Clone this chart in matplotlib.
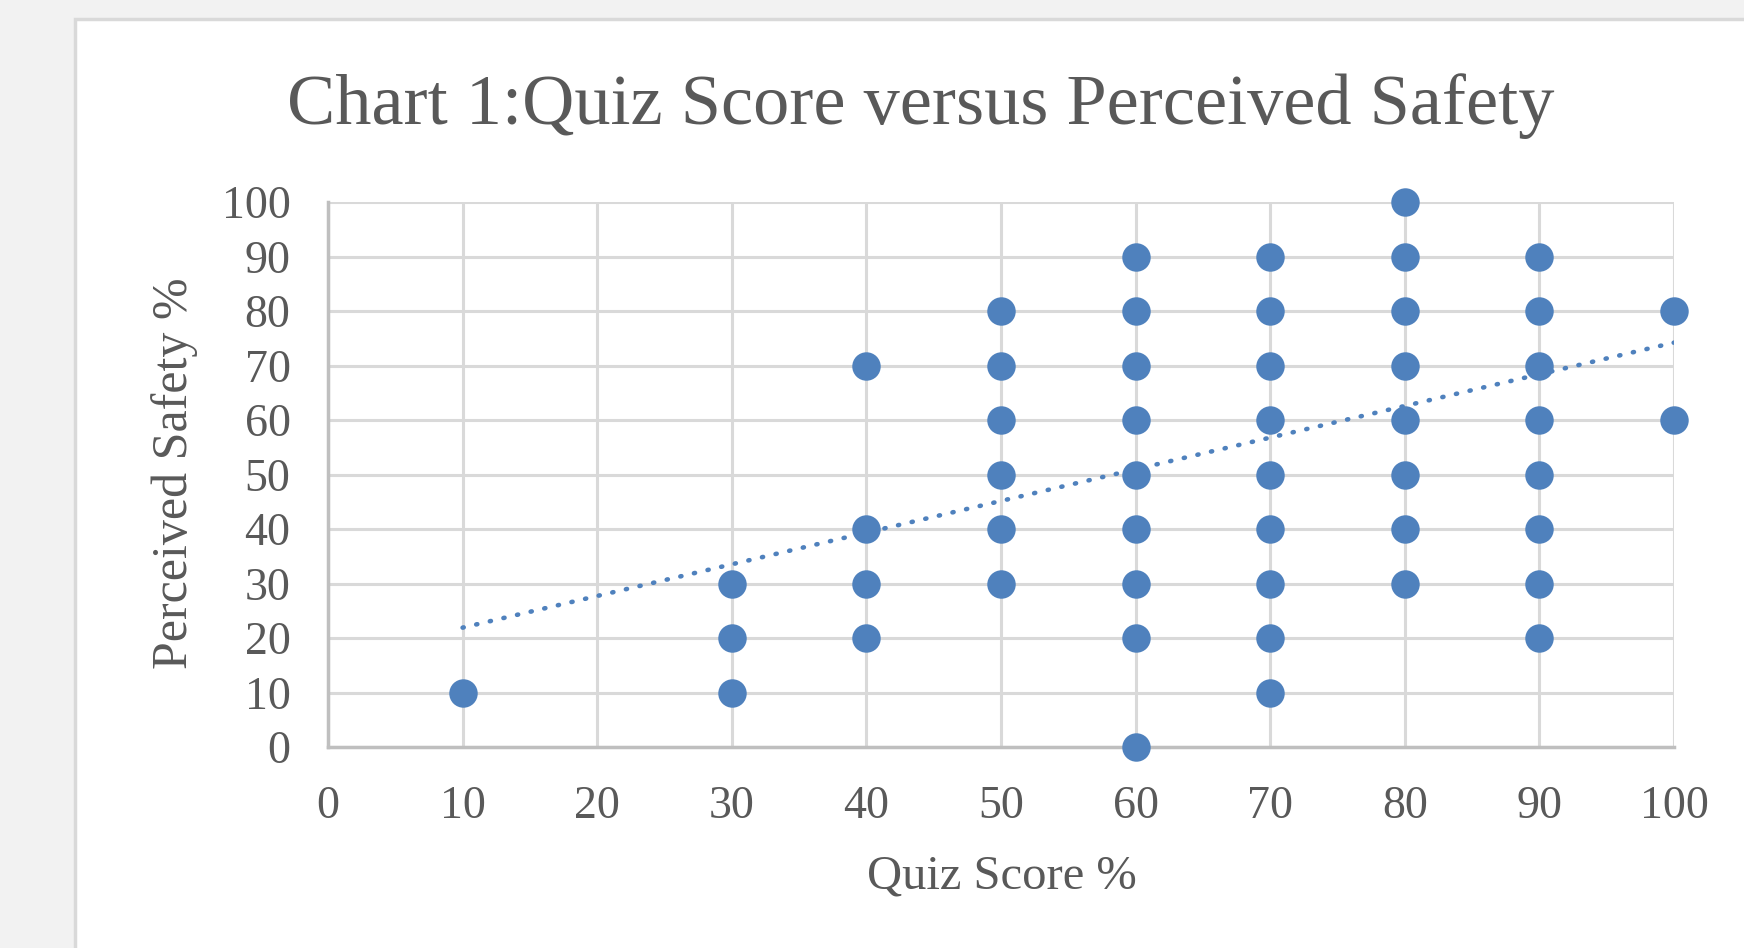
import matplotlib.pyplot as plt
from matplotlib.patches import Rectangle

# quiz score (x) and perceived safety (y) for each point
quiz_score = ([10] + [30] * 3 + [40] * 4 + [50] * 6 + [60] * 9 + [70] * 9
              + [80] * 8 + [90] * 8 + [100] * 2)
safety = [10,
          10, 20, 30,
          20, 30, 40, 70,
          30, 40, 50, 60, 70, 80,
          0, 20, 30, 40, 50, 60, 70, 80, 90,
          10, 20, 30, 40, 50, 60, 70, 80, 90,
          30, 40, 50, 60, 70, 80, 90, 100,
          20, 30, 40, 50, 60, 70, 80, 90,
          60, 80]

# linear trend line ends
trend_x = [10, 100]
trend_y = [21.9, 74.2]

ticks = list(range(0, 101, 10))

plt.rcParams['font.family'] = ['Liberation Serif', 'DejaVu Serif']
txt_col = '#595959'
blue = '#4F81BD'

fig = plt.figure(figsize=(17.44, 9.48), dpi=100)
fig.patch.set_facecolor('#F2F2F2')

# white chart area with light border
fig.patches.append(Rectangle((75 / 1744, -0.1), 1.2, 1 - 19 / 948 + 0.1,
                             transform=fig.transFigure, facecolor='white',
                             edgecolor='#D9D9D9', linewidth=2.5, zorder=-5))

ax = fig.add_axes([328 / 1744, 1 - 747 / 948, 1346 / 1744, 545 / 948])
ax.patch.set_alpha(0)
ax.set_xlim(0, 100)
ax.set_ylim(0, 100)
ax.set_xticks(ticks)
ax.set_yticks(ticks)
ax.grid(True, color='#D9D9D9', linewidth=2.2)
ax.set_axisbelow(True)
for s in ['top', 'right']:
    ax.spines[s].set_visible(False)
for s in ['left', 'bottom']:
    ax.spines[s].set_color('#BFBFBF')
    ax.spines[s].set_linewidth(2.5)
ax.tick_params(length=0, labelsize=33, labelcolor=txt_col)
ax.tick_params(axis='y', pad=27)
ax.tick_params(axis='x', pad=28)

ax.scatter(quiz_score, safety, s=420, color=blue, zorder=3, clip_on=False,
           linewidths=0)
ax.plot(trend_x, trend_y, color=blue, linewidth=3.3,
        linestyle=(0, (0.25, 2.8)), dash_capstyle='round', zorder=4)

fig.text(921 / 1744, 1 - 106 / 948, 'Chart 1:Quiz Score versus Perceived Safety',
         ha='center', va='center', fontsize=52, color=txt_col)
fig.text(1002 / 1744, 1 - 876 / 948, 'Quiz Score %', ha='center', va='center',
         fontsize=35, color=txt_col)
fig.text(175 / 1744, 1 - 473 / 948, 'Perceived Safety %', ha='center',
         va='center', rotation=90, fontsize=36, color=txt_col)

plt.savefig('out.png', dpi=100, facecolor=fig.get_facecolor())
